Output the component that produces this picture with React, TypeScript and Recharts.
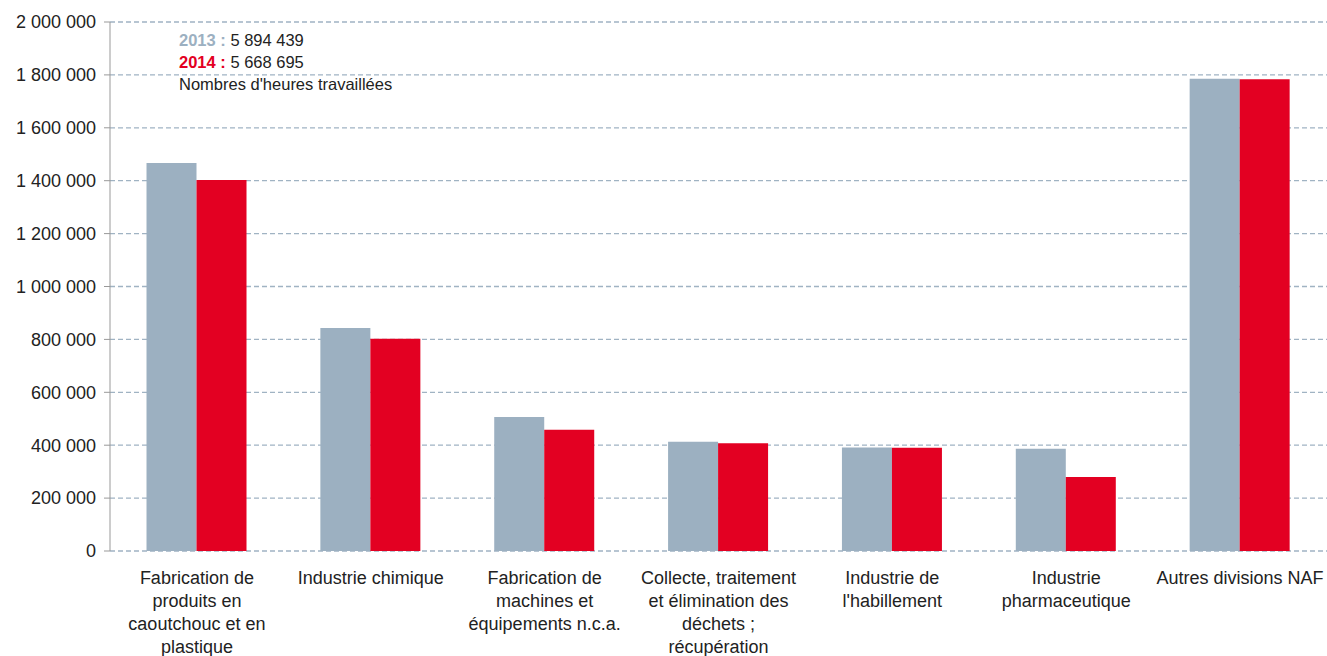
import { Bar, BarChart, CartesianGrid, XAxis, YAxis } from "recharts";

const categories = [
  "Fabrication de\nproduits en\ncaoutchouc et en\nplastique",
  "Industrie chimique",
  "Fabrication de\nmachines et\néquipements n.c.a.",
  "Collecte, traitement\net élimination des\ndéchets ;\nrécupération",
  "Industrie de\nl'habillement",
  "Industrie\npharmaceutique",
  "Autres divisions NAF",
];
const hours2013 = [1467000, 843000, 507000, 413000, 391000, 387000, 1785000];
const hours2014 = [1403000, 802000, 458000, 407000, 390000, 280000, 1784000];
const yTicks = [0, 200000, 400000, 600000, 800000, 1000000, 1200000, 1400000, 1600000, 1800000, 2000000];

const total2013 = "5 894 439";
const total2014 = "5 668 695";

const GREY = "#9cb0c1";
const RED = "#e30022";
const FONT = "'Liberation Sans', Arial, sans-serif";

const data = categories.map((name, i) => ({
  name,
  y2013: hours2013[i],
  y2014: hours2014[i],
}));

function fmt(v: number): string {
  return String(v).replace(/\B(?=(\d{3})+(?!\d))/g, " ");
}

function CategoryTick({ x, y, payload }: any) {
  const lines = String(payload.value).split("\n");
  return (
    <text x={x} y={y} textAnchor="middle" fill="#222" fontSize={18} fontFamily={FONT}>
      {lines.map((l, i) => (
        <tspan key={i} x={x} dy={i === 0 ? 25 : 23}>
          {l}
        </tspan>
      ))}
    </text>
  );
}

export default function App() {
  return (
    <div style={{ position: "absolute", left: 0, top: 0, width: 1327, height: 656, fontFamily: FONT }}>
      <BarChart
        width={1327}
        height={656}
        data={data}
        margin={{ top: 22, right: 0, bottom: 0, left: 0 }}
        barGap={0}
        barCategoryGap="21%"
      >
        <CartesianGrid vertical={false} stroke="#a0b3c3" strokeDasharray="5 3" strokeWidth={1.3} />
        <XAxis
          dataKey="name"
          axisLine={false}
          tickLine={false}
          interval={0}
          tick={<CategoryTick />}
          height={105}
        />
        <YAxis
          domain={[0, 2000000]}
          ticks={yTicks}
          width={110}
          tickFormatter={fmt}
          axisLine={{ stroke: "#999" }}
          tickLine={{ stroke: "#999" }}
          tickSize={6}
          tickMargin={8}
          tick={{ fill: "#222", fontSize: 18, fontFamily: FONT }}
        />
        <Bar dataKey="y2013" fill={GREY} isAnimationActive={false} />
        <Bar dataKey="y2014" fill={RED} isAnimationActive={false} />
      </BarChart>
      <div style={{ position: "absolute", left: 179, top: 29, fontSize: 16.5, lineHeight: "22px", color: "#222" }}>
        <div>
          <b style={{ color: GREY }}>2013 :</b> {total2013}
        </div>
        <div>
          <b style={{ color: RED }}>2014 :</b> {total2014}
        </div>
        <div>Nombres d'heures travaillées</div>
      </div>
    </div>
  );
}
